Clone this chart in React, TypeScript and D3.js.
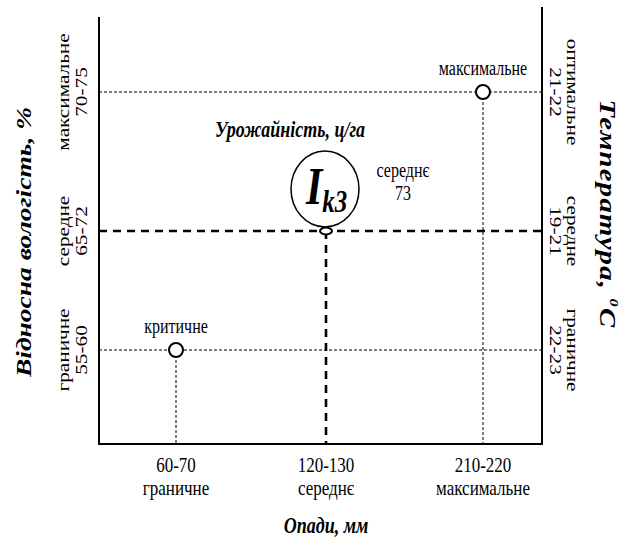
import React from "react";
import * as d3 from "d3";

// осі: опади (низ), відносна вологість (ліво), температура (право)
const precipRanges = ["60-70", "120-130", "210-220"];
const precipLevels = ["граничне", "середнє", "максимальне"];
const humidRanges = ["55-60", "65-72", "70-75"];
const humidLevels = ["граничне", "середне", "максимальне"];
const tempRanges = ["22-23", "19-21", "21-22"];
const tempLevels = ["граничне", "середне", "оптимальне"];

// точки (індекс опадів, індекс вологості)
const points = [
  { name: "критичне", xi: 0, yi: 0 },
  { name: "середнє", xi: 1, yi: 1 },
  { name: "максимальне", xi: 2, yi: 2 },
];
const yieldValue = 73;

const W = 629;
const H = 544;
const frame = { left: 99, right: 542, bottom: 444, topL: 17, topR: 7 };
const serif = "Liberation Serif";
const stretch = 1.25; // the figure is stretched vertically

// text with the same vertical stretch as the original picture
const T = ({ x, y, rot = 0, size = 16, bold = false, anchor = "middle", spacing = 0, children }: any) => (
  <text
    transform={`translate(${x},${y}) scale(1,${stretch}) rotate(${rot})`}
    textAnchor={anchor}
    fontSize={size}
    fontWeight={bold ? "bold" : "normal"}
    fontStyle={bold ? "italic" : "normal"}
    letterSpacing={spacing}
  >
    {children}
  </text>
);

const App = () => {
  const x = d3.scaleLinear().domain([0, 1, 2]).range([176, 326, 483]);
  const y = d3.scaleLinear().domain([0, 1, 2]).range([350, 231, 92]);

  const mid = points[1];
  const cx = x(mid.xi);
  const cy = y(mid.yi);

  return (
    <svg width={W} height={H} fontFamily={serif} style={{ position: "absolute", left: 0, top: 0 }}>
      <rect width={W} height={H} fill="white" />

      {/* guide lines */}
      {points.map((p, i) => {
        const thick = i === 1;
        return (
          <g key={"g" + i} stroke="black" fill="none"
            strokeWidth={thick ? 2.6 : 1}
            strokeDasharray={thick ? "8,6" : "3,2"}>
            <line x1={frame.left} x2={frame.right} y1={y(p.yi)} y2={y(p.yi)} />
            <line x1={x(p.xi)} x2={x(p.xi)} y1={y(p.yi)} y2={frame.bottom} />
          </g>
        );
      })}

      {/* frame */}
      <g stroke="black" strokeWidth={2} fill="none">
        <line x1={frame.left} x2={frame.left} y1={frame.topL} y2={frame.bottom} />
        <line x1={frame.right} x2={frame.right} y1={frame.topR} y2={frame.bottom} />
        <line x1={frame.left - 1} x2={frame.right + 1} y1={frame.bottom} y2={frame.bottom} />
      </g>

      {/* points */}
      {points.map((p, i) =>
        i === 1 ? (
          <ellipse key={"p" + i} cx={x(p.xi)} cy={y(p.yi)} rx={6} ry={3.5}
            fill="white" stroke="black" strokeWidth={2} />
        ) : (
          <circle key={"p" + i} cx={x(p.xi)} cy={y(p.yi)} r={7}
            fill="white" stroke="black" strokeWidth={2} />
        )
      )}
      {points.filter((p, i) => i !== 1).map((p, i) => (
        <T key={"pl" + i} x={x(p.xi)} y={y(p.yi) - 17} size={16}>{p.name}</T>
      ))}

      {/* I_k3 */}
      <ellipse cx={cx - 1} cy={cy - 42} rx={34} ry={38} fill="white" stroke="black" strokeWidth={1.5} />
      <T x={cx - 20} y={cy - 27} size={42} bold anchor="start">
        I<tspan fontSize={25} dy={6}>k3</tspan>
      </T>
      <T x={290} y={137} size={18} bold>Урожайність, ц/га</T>
      <T x={cx + 77} y={177} size={16}>{mid.name}</T>
      <T x={cx + 77} y={200} size={16}>{yieldValue}</T>

      {/* bottom labels */}
      {precipRanges.map((r, i) => (
        <g key={"b" + i}>
          <T x={x(i)} y={472} size={17}>{r}</T>
          <T x={x(i)} y={495} size={17}>{precipLevels[i]}</T>
        </g>
      ))}
      <T x={326} y={533} size={18} bold>Опади, мм</T>

      {/* left labels */}
      {humidRanges.map((r, i) => (
        <g key={"l" + i}>
          <T x={69} y={y(i)} rot={-90} size={17}>{humidLevels[i]}</T>
          <T x={87} y={y(i)} rot={-90} size={17}>{r}</T>
        </g>
      ))}
      <T x={31} y={242} rot={-90} size={22} bold>Відносна вологість, %</T>

      {/* right labels */}
      {tempRanges.map((r, i) => (
        <g key={"r" + i}>
          <T x={567} y={y(i)} rot={90} size={17}>{tempLevels[i]}</T>
          <T x={550} y={y(i)} rot={90} size={17}>{r}</T>
        </g>
      ))}
      <T x={600} y={214} rot={90} size={23} bold spacing={1}>
        Температура, <tspan fontSize={13} dy={-10}>0</tspan><tspan dy={10}>C</tspan>
      </T>
    </svg>
  );
};

export default App;
